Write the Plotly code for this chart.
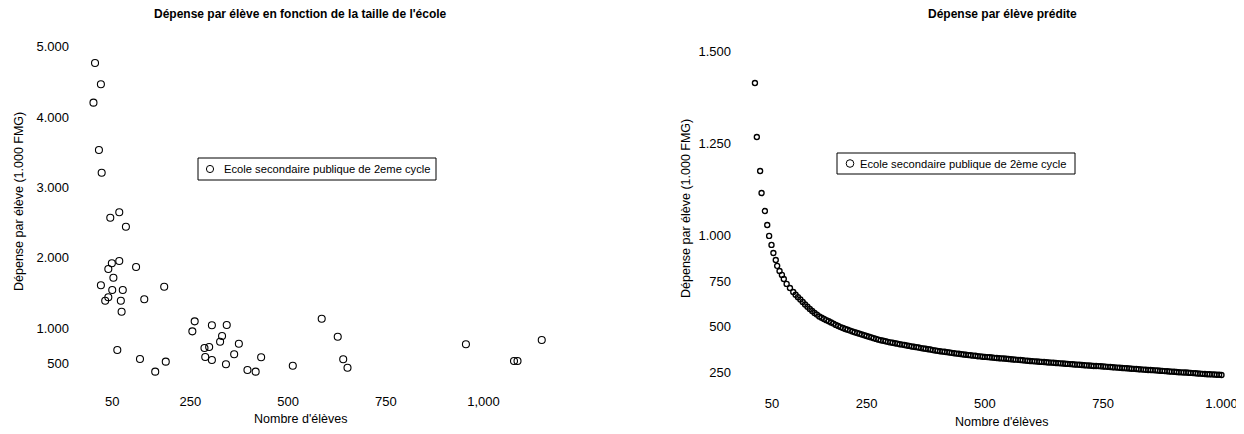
import plotly.graph_objects as go

# ---- Data: left chart (observed spending per pupil vs school size) ----
taille_ecole = [6, 21, 2, 16, 23, 68, 45, 85, 68, 49, 40, 111, 53, 21, 50, 77, 183,
                40, 32, 72, 132, 74, 261, 255, 305, 343, 331, 326, 374, 298, 286, 63,
                362, 288, 305, 431, 121, 187, 341, 512, 160, 396, 417, 586, 627, 641,
                652, 955, 1078, 1087, 1149]
depense_obs = [4768, 4466, 4205, 3533, 3210, 2648, 2571, 2443, 1956, 1923, 1842, 1871,
               1719, 1611, 1544, 1544, 1591, 1440, 1392, 1392, 1412, 1236, 1099, 957,
               1043, 1047, 891, 810, 781, 734, 720, 692, 631, 592, 550, 588, 564, 526,
               489, 469, 384, 408, 384, 1136, 881, 560, 440, 773, 536, 536, 834]

# ---- Data: right chart (predicted spending per pupil) ----
taille_pred = [14, 18, 25, 28, 35, 40, 44, 49, 53, 58, 61, 66, 71, 75, 81, 88, 95,
               100, 105, 110, 115, 120, 125, 130, 135, 140, 145, 150, 155, 160, 165,
               170, 175, 180, 185, 190, 195, 200, 205, 210, 215, 220, 225, 230, 235,
               240, 245, 250, 255, 260, 265, 270, 275, 280, 285, 290, 295, 300, 305,
               310, 315, 320, 325, 330, 335, 340, 345, 350, 355, 360, 365, 370, 375,
               380, 385, 390, 395, 400, 405, 410, 415, 420, 425, 430, 435, 440, 445,
               450, 455, 460, 465, 470, 475, 480, 485, 490, 495, 500, 505, 510, 515,
               520, 525, 530, 535, 540, 545, 550, 555, 560, 565, 570, 575, 580, 585,
               590, 595, 600, 605, 610, 615, 620, 625, 630, 635, 640, 645, 650, 655,
               660, 665, 670, 675, 680, 685, 690, 695, 700, 705, 710, 715, 720, 725,
               730, 735, 740, 745, 750, 755, 760, 765, 770, 775, 780, 785, 790, 795,
               800, 805, 810, 815, 820, 825, 830, 835, 840, 845, 850, 855, 860, 865,
               870, 875, 880, 885, 890, 895, 900, 905, 910, 915, 920, 925, 930, 935,
               940, 945, 950, 955, 960, 965, 970, 975, 980, 985, 990, 995, 1000]
depense_pred = [1826, 1533, 1348, 1228, 1130, 1054, 995, 946, 902, 864, 832, 804, 783,
                761, 734, 712, 690,
                675, 662, 649, 636, 622, 610, 598, 587, 576, 567, 557, 550, 543, 537,
                531, 524, 518, 511, 505, 499, 494, 489, 485, 480, 475, 471, 467, 463,
                459, 455, 451, 447, 443, 439, 435, 431, 428, 425, 422, 419, 416, 414,
                411, 409, 406, 404, 402, 399, 397, 394, 392, 390, 388, 385, 383, 381,
                379, 377, 374, 372, 370, 368, 366, 365, 363, 361, 359, 357, 355, 354,
                352, 350, 349, 347, 346, 344, 343, 341, 340, 338, 337, 336, 335, 334,
                332, 331, 330, 329, 328, 327, 326, 324, 323, 322, 321, 320, 319, 317,
                316, 315, 314, 313, 312, 311, 310, 309, 308, 307, 306, 305, 304, 303,
                302, 301, 300, 299, 298, 297, 296, 295, 294, 293, 292, 291, 290, 289,
                288, 288, 287, 286, 285, 284, 283, 282, 281, 280, 279, 278, 277, 276,
                275, 274, 273, 272, 271, 270, 269, 268, 267, 266, 266, 265, 264, 263,
                262, 261, 260, 259, 258, 257, 256, 255, 254, 253, 252, 252, 251, 250,
                249, 248, 247, 246, 245, 244, 243, 243, 242, 241, 240, 240, 239]

# ---- Tick labels ----
x1_ticks = [50, 250, 500, 750, 1000]
x1_text = ["50", "250", "500", "750", "1,000"]
y1_ticks = [500, 1000, 2000, 3000, 4000, 5000]
y1_text = ["500", "1.000", "2.000", "3.000", "4.000", "5.000"]
x2_ticks = [50, 250, 500, 750, 1000]
x2_text = ["50", "250", "500", "750", "1.000"]
y2_ticks = [250, 500, 750, 1000, 1500, 2000]
y2_text = ["250", "500", "750", "1.000", "1.250", "1.500"]

serie1 = "Ecole secondaire publique de 2eme cycle"
serie2 = "Ecole secondaire publique de 2ème cycle"

FONT = "Liberation Sans, Arial, sans-serif"
OFF = 8                     # page body margin
W, H = 1244 - OFF, 434 - OFF

def px(x):
    return (x - OFF) / W

def py(y):
    return 1 - (y - OFF) / H

fig = go.Figure()
fig.add_trace(go.Scatter(
    x=taille_ecole, y=depense_obs, mode="markers", name=serie1, showlegend=False,
    marker=dict(symbol="circle-open", size=7, color="black", line=dict(width=1.1)),
    xaxis="x", yaxis="y"))
fig.add_trace(go.Scatter(
    x=taille_pred, y=depense_pred, mode="markers", name=serie2, showlegend=False,
    marker=dict(symbol="circle-open", size=5, color="black", line=dict(width=1.4)),
    xaxis="x2", yaxis="y2"))

axis_common = dict(showgrid=False, zeroline=False, showline=False, ticks="",
                   automargin=False, tickfont=dict(family=FONT, size=13, color="black"))

fig.update_layout(
    width=W, height=H,
    margin=dict(l=0, r=0, t=0, b=0),
    paper_bgcolor="white", plot_bgcolor="white",
    font=dict(family=FONT, color="black"),
    xaxis=dict(domain=[px(88), px(548)], range=[-12, 1165], tickmode="array",
               tickvals=x1_ticks, ticktext=x1_text, anchor="y", ticklabelstandoff=4,
               **axis_common),
    yaxis=dict(domain=[py(388), py(40)], range=[152, 5095], tickmode="array",
               tickvals=y1_ticks, ticktext=y1_text, anchor="x", ticklabelstandoff=18,
               **axis_common),
    xaxis2=dict(domain=[px(745), px(1230)], range=[-7, 1018], tickmode="array",
                tickvals=x2_ticks, ticktext=x2_text, anchor="y2", ticklabelstandoff=6,
                **axis_common),
    yaxis2=dict(domain=[py(388), py(40)], range=[168, 2060], tickmode="array",
                tickvals=y2_ticks, ticktext=y2_text, anchor="x2", ticklabelstandoff=13,
                **axis_common),
    showlegend=False,
)

# Legend boxes (one per panel)
shapes = []
legends = [
    dict(box=(198, 158, 436, 180), mark=(210, 169, 3.6), text=serie1, tx=222, ty=169),
    dict(box=(837, 153, 1075, 174), mark=(850, 163.5, 3.8), text=serie2, tx=858, ty=163.5),
]
ann = []
for lg in legends:
    x0, y0, x1, y1 = lg["box"]
    shapes.append(dict(type="rect", xref="paper", yref="paper",
                       x0=px(x0), x1=px(x1), y0=py(y1), y1=py(y0),
                       line=dict(color="black", width=1), fillcolor="white", layer="above"))
    cx, cy, r = lg["mark"]
    shapes.append(dict(type="circle", xref="paper", yref="paper",
                       x0=px(cx - r), x1=px(cx + r), y0=py(cy + r), y1=py(cy - r),
                       line=dict(color="black", width=1), layer="above"))
    ann.append(dict(text=lg["text"], x=px(lg["tx"]), y=py(lg["ty"]), xanchor="left",
                    font=dict(size=11.2)))

ann += [
    dict(text="<b>Dépense par élève en fonction de la taille de l'école</b>",
         x=px(300), y=py(14), font=dict(size=12)),
    dict(text="<b>Dépense par élève prédite</b>", x=px(1002), y=py(14), font=dict(size=12)),
    dict(text="Dépense par élève (1.000 FMG)", x=px(19), y=py(202), textangle=-90,
         font=dict(size=12.5)),
    dict(text="Dépense par élève (1.000 FMG)", x=px(686), y=py(209), textangle=-90,
         font=dict(size=12.5)),
    dict(text="Nombre d'élèves", x=px(300), y=py(419), font=dict(size=12.5)),
    dict(text="Nombre d'élèves", x=px(1001), y=py(422), font=dict(size=12.5)),
]
for a in ann:
    a.update(xref="paper", yref="paper", showarrow=False, yanchor="middle")
    a.setdefault("xanchor", "center")
    a["font"].update(family=FONT, color="black")
fig.update_layout(annotations=ann, shapes=shapes)

fig.write_html("out.html")
